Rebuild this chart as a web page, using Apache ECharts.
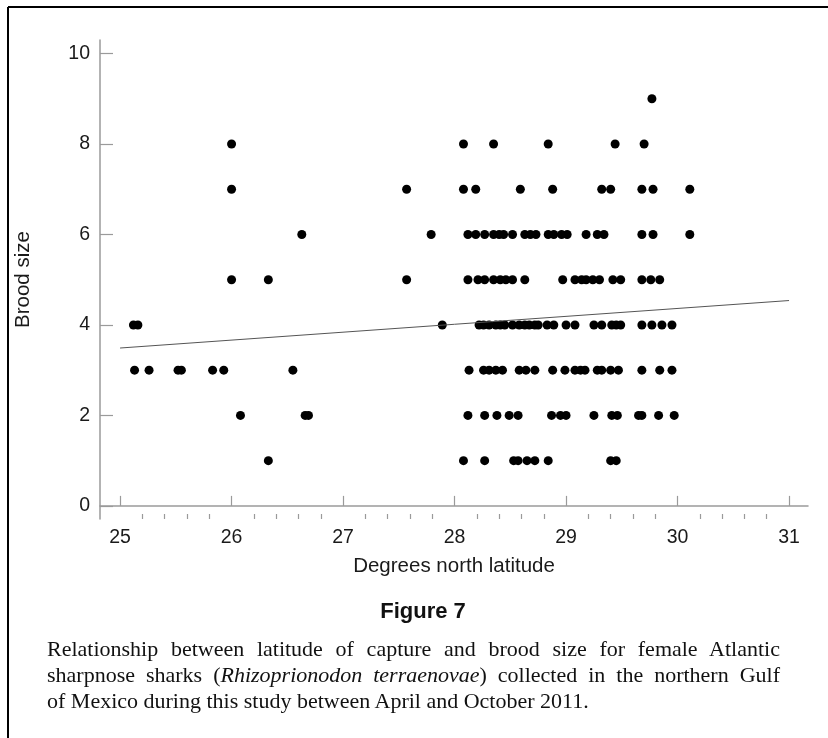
<!DOCTYPE html>
<html>
<head>
<meta charset="utf-8">
<script src="https://cdn.jsdelivr.net/npm/echarts@6/dist/echarts.min.js"></script>
<style>
  html, body { margin: 0; padding: 0; background: #fff; }
  #wrap { position: relative; width: 828px; height: 738px; }
  #main { position: absolute; left: 0; top: 0; width: 828px; height: 738px; }
  #caption {
    position: absolute; left: 47px; top: 636px; width: 733px;
    font-family: "Liberation Serif", serif; font-size: 22px; line-height: 26px;
    color: #111; white-space: nowrap;
  }
  #caption .full { text-align: justify; text-align-last: justify; }
  #caption .last { text-align: left; }
</style>
</head>
<body>
<div id="wrap">
  <div id="main"></div>
  <div id="caption">
    <div class="full">Relationship between latitude of capture and brood size for female Atlantic</div>
    <div class="full">sharpnose sharks (<i>Rhizoprionodon terraenovae</i>) collected in the northern Gulf</div>
    <div class="last">of Mexico during this study between April and October 2011.</div>
  </div>
</div>
<script>
// latitude of each female, grouped by brood size
var lat1 = [26.33, 28.08, 28.27, 28.53, 28.57, 28.65, 28.72, 28.84, 29.40, 29.45];
var lat2 = [26.08, 26.66, 26.69, 28.12, 28.27, 28.38, 28.49, 28.57, 28.87, 28.95, 29.00, 29.25, 29.41, 29.46, 29.65, 29.68, 29.83, 29.97];
var lat3 = [25.13, 25.26, 25.52, 25.55, 25.83, 25.93, 26.55, 28.13, 28.26, 28.31, 28.37, 28.43, 28.58, 28.64, 28.72, 28.88, 28.99, 29.08, 29.13, 29.17, 29.28, 29.32, 29.40, 29.47, 29.68, 29.84, 29.95];
var lat4 = [25.12, 25.16, 27.89, 28.22, 28.26, 28.31, 28.37, 28.41, 28.45, 28.52, 28.58, 28.63, 28.67, 28.72, 28.75, 28.83, 28.89, 29.00, 29.08, 29.25, 29.32, 29.41, 29.45, 29.49, 29.68, 29.77, 29.86, 29.95];
var lat5 = [26.00, 26.33, 27.57, 28.12, 28.21, 28.27, 28.35, 28.41, 28.46, 28.52, 28.63, 28.97, 29.08, 29.14, 29.18, 29.24, 29.30, 29.42, 29.49, 29.68, 29.76, 29.84];
var lat6 = [26.63, 27.79, 28.12, 28.19, 28.27, 28.35, 28.40, 28.44, 28.52, 28.63, 28.68, 28.73, 28.84, 28.89, 28.96, 29.01, 29.18, 29.28, 29.34, 29.68, 29.78, 30.11];
var lat7 = [26.00, 27.57, 28.08, 28.19, 28.59, 28.88, 29.32, 29.40, 29.68, 29.78, 30.11];
var lat8 = [26.00, 28.08, 28.35, 28.84, 29.44, 29.70];
var lat9 = [29.77];

// fitted regression line
var trendX = [25, 31];
var trendY = [3.49, 4.54];

// tick labels
var xTicks = [25, 26, 27, 28, 29, 30, 31];
var yTicks = [0, 2, 4, 6, 8, 10];

var groups = [lat1, lat2, lat3, lat4, lat5, lat6, lat7, lat8, lat9];
var points = [];
groups.forEach(function(g, i){
    g.forEach(function(x){ points.push([x, i + 1]); });
});

var xMinor = [];
for (var i = 0; i < xTicks.length - 1; i++) {
    for (var k = 1; k < 5; k++) xMinor.push(+(xTicks[i] + k * 0.2).toFixed(1));
}

var axisGrey = '#9a9a9a';
var labelFont = { fontFamily: 'Liberation Sans', fontSize: 19.5, color: '#1a1a1a' };
var nameFont = { fontFamily: 'Liberation Sans', fontSize: 20.5, color: '#1a1a1a' };

var myChart = echarts.init(document.getElementById('main'));

var option = {
    animation: false,
    backgroundColor: '#fff',
    grid: { left: 100, right: 20, top: 40, bottom: 219 },
    xAxis: [{
        type: 'value',
        min: 24.82,
        max: 31.17,
        name: 'Degrees north latitude',
        nameLocation: 'middle',
        nameGap: 37,
        nameTextStyle: nameFont,
        splitLine: { show: false },
        axisLine: { lineStyle: { color: axisGrey, width: 1.5 } },
        axisTick: { inside: true, length: 10, customValues: xTicks, lineStyle: { color: axisGrey, width: 1.2 } },
        axisLabel: Object.assign({ margin: 9, customValues: xTicks }, labelFont)
    }, {
        type: 'value',
        position: 'bottom',
        min: 24.82,
        max: 31.17,
        splitLine: { show: false },
        axisLine: { show: false },
        axisTick: { inside: true, length: 5, customValues: xMinor, lineStyle: { color: axisGrey, width: 1.2 } },
        axisLabel: { show: false }
    }],
    yAxis: {
        type: 'value',
        min: -0.29,
        max: 10.3,
        name: 'Brood size',
        nameLocation: 'middle',
        nameGap: 66,
        nameRotate: 90,
        nameTextStyle: nameFont,
        splitLine: { show: false },
        axisLine: { lineStyle: { color: axisGrey, width: 1.5 } },
        axisTick: { inside: true, length: 13, customValues: yTicks, lineStyle: { color: axisGrey, width: 1.2 } },
        axisLabel: Object.assign({ margin: 10, customValues: yTicks }, labelFont)
    },
    series: [{
        type: 'line',
        data: [[trendX[0], trendY[0]], [trendX[1], trendY[1]]],
        symbol: 'none',
        lineStyle: { color: '#555', width: 1 },
        silent: true
    }, {
        type: 'scatter',
        data: points,
        symbolSize: 9,
        itemStyle: { color: '#000', opacity: 1 }
    }],
    graphic: [
        { type: 'line', shape: { x1: 8, y1: 7, x2: 828, y2: 7 }, style: { stroke: '#000', lineWidth: 2 } },
        { type: 'line', shape: { x1: 8, y1: 7, x2: 8, y2: 738 }, style: { stroke: '#000', lineWidth: 2 } },
        { type: 'text', x: 423, y: 612, style: {
            text: 'Figure 7', x: 0, y: 0, align: 'center', verticalAlign: 'middle',
            font: 'bold 22px "Liberation Sans"', fill: '#111'
        } }
    ]
};

myChart.setOption(option);
</script>
</body>
</html>
